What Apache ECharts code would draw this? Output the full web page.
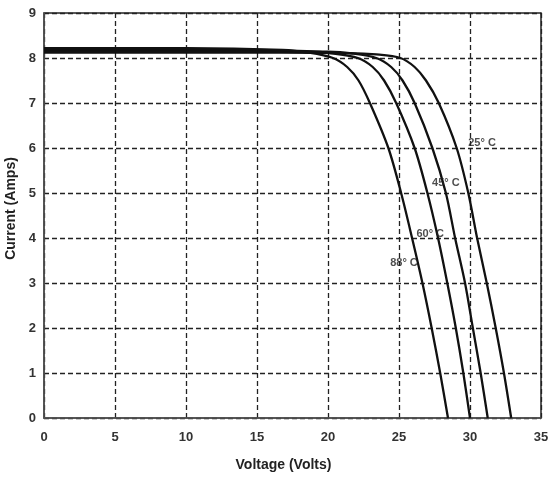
<!DOCTYPE html>
<html>
<head>
<meta charset="utf-8">
<script src="https://cdn.jsdelivr.net/npm/echarts@6/dist/echarts.min.js"></script>
<style>
html,body{margin:0;padding:0;background:#fff;}
#chart{width:548px;height:479px;}
</style>
</head>
<body>
<div id="chart"></div>
<script>
// Tick values
const xTicks = [0, 5, 10, 15, 20, 25, 30, 35];
const yTicks = [0, 1, 2, 3, 4, 5, 6, 7, 8, 9];

// I-V curves: [voltage, current]
const curve25 = [[0,8.12],[12,8.12],[21.5,8.11],[23.4,8.08],[25.1,8.0],[26.1,7.8],[26.9,7.5],[27.8,7.0],[29.06,6.0],[29.88,5.0],[30.5,4.0],[31.18,3.0],[31.81,2.0],[32.39,1.0],[32.9,0]];
const curve45 = [[0,8.16],[12,8.16],[20,8.14],[21.7,8.1],[23.4,8.0],[24.45,7.8],[25.25,7.5],[26.1,7.0],[27.35,6.0],[28.3,5.0],[28.95,4.0],[29.65,3.0],[30.2,2.0],[30.75,1.0],[31.25,0]];
const curve60 = [[0,8.19],[12,8.19],[18.5,8.15],[20.4,8.1],[22.1,8.0],[23.15,7.8],[23.95,7.5],[24.8,7.0],[26.1,6.0],[27.0,5.0],[27.75,4.0],[28.4,3.0],[29.0,2.0],[29.53,1.0],[30.0,0]];
const curve88 = [[0,8.22],[10,8.22],[16.8,8.18],[18.6,8.12],[20.35,8.0],[21.35,7.8],[22.15,7.5],[22.95,7.0],[24.25,6.0],[25.15,5.0],[25.92,4.0],[26.65,3.0],[27.3,2.0],[27.9,1.0],[28.45,0]];

// Curve labels: [voltage, current, text]
const curveLabels = [[30.85,6.12,'25° C'],[28.3,5.23,'45° C'],[27.2,4.1,'60° C'],[25.35,3.44,'88° C']];

const chart = echarts.init(document.getElementById('chart'));
const lineStyle = {color:'#111', width:2.3};
function mk(name, data){
  return {name:name, type:'line', data:data, showSymbol:false, smooth:0.3,
    lineStyle:lineStyle, itemStyle:{color:'#111'}, z:5, silent:true, animation:false};
}
const labelFont = {fontFamily:'"Liberation Sans",Arial,sans-serif', fontWeight:'bold'};
chart.setOption({
  animation:false,
  backgroundColor:'#fff',
  grid:{left:44, right:7, top:13, bottom:61, show:true, borderColor:'#222', borderWidth:1.5,
        backgroundColor:'transparent', outerBoundsMode:'none', containLabel:false},
  xAxis:{
    type:'value', min:xTicks[0], max:xTicks[xTicks.length-1], interval:5,
    name:'Voltage (Volts)', nameLocation:'middle', nameGap:40,
    nameTextStyle:Object.assign({fontSize:14, color:'#222', padding:[0,18,0,0]}, labelFont),
    axisLine:{show:true, onZero:false, lineStyle:{color:'#555', width:1.5}},
    axisTick:{show:false},
    axisLabel:Object.assign({fontSize:13, color:'#333', margin:13}, labelFont),
    splitLine:{show:true, lineStyle:{color:'#222', type:[5,3], width:1.3}}
  },
  yAxis:{
    type:'value', min:yTicks[0], max:yTicks[yTicks.length-1], interval:1,
    name:'Current (Amps)', nameLocation:'middle', nameGap:21,
    nameTextStyle:Object.assign({fontSize:14, color:'#222', padding:[0,0,0,14]}, labelFont),
    axisLine:{show:true, onZero:false, lineStyle:{color:'#555', width:1.5}},
    axisTick:{show:false},
    axisLabel:Object.assign({fontSize:13, color:'#333', margin:8}, labelFont),
    splitLine:{show:true, lineStyle:{color:'#222', type:[5,3], width:1.3}}
  },
  series:[
    mk('25', curve25), mk('45', curve45), mk('60', curve60), mk('88', curve88),
    {type:'scatter', data:curveLabels.map(d=>[d[0],d[1],d[2]]), symbolSize:0, silent:true, z:6,
     label:Object.assign({show:true, position:'inside', formatter:p=>p.data[2], fontSize:11, color:'#222'}, labelFont)}
  ]
});
</script>
</body>
</html>
